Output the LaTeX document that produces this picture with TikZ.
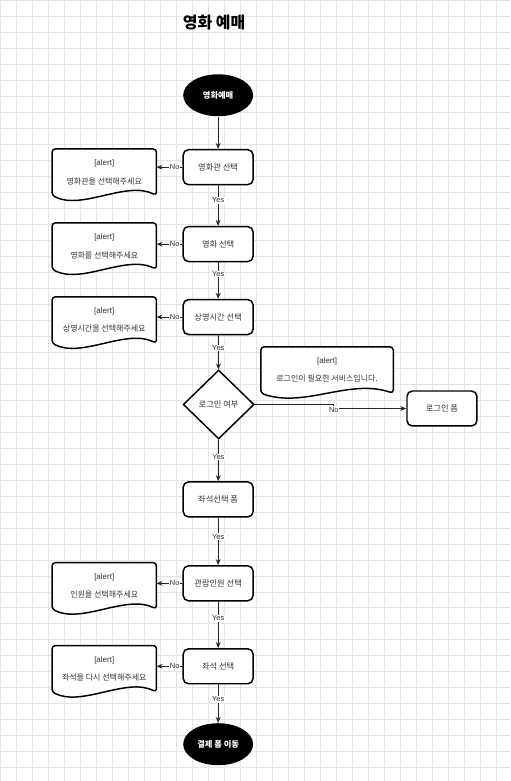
\documentclass[tikz,border=0pt]{standalone}
\usepackage{fontspec}
\setmainfont{Liberation Sans}
\newfontfamily\kr{Noto Sans CJK KR}
\usetikzlibrary{arrows.meta, positioning, shapes.geometric, calc, backgrounds}
\definecolor{txtgray}{RGB}{51, 51, 51}
\definecolor{gridgray}{RGB}{228, 228, 228}

% alert box: document shape with a wavy bottom, drawn behind its node
\newcommand{\alertdoc}[1]{%
  \begin{scope}[on background layer]
    \draw[line width=1.1pt, fill=white, rounded corners=2.5pt]
      (#1.south west) -- (#1.north west) -- (#1.north east) -- (#1.south east)
      .. controls ($(#1.south)+(22,-15)$) and ($(#1.south)+(-22,15)$) .. (#1.south west) -- cycle;
  \end{scope}}

\begin{document}
\begin{tikzpicture}[
    x=0.75pt, y=-0.75pt,
    >={Stealth[length=4.5pt, width=3.6pt]},
    proc/.style={rectangle, draw, line width=1.1pt, rounded corners=4pt, fill=white,
        minimum width=52.5pt, minimum height=26.25pt, inner sep=1pt,
        font=\kr\fontsize{6.2}{7}\selectfont, text=txtgray},
    term/.style={ellipse, fill=black, minimum width=52.5pt, minimum height=31.5pt,
        inner sep=0pt, font=\kr\bfseries\fontsize{6.2}{7}\selectfont, text=white},
    decide/.style={diamond, draw, line width=1.1pt, fill=white, aspect=1,
        minimum width=53.25pt, minimum height=51.75pt, inner sep=0pt,
        font=\kr\fontsize{6.2}{7}\selectfont, text=txtgray},
    alert/.style={rectangle, minimum width=78pt, minimum height=34.5pt, inner sep=0pt,
        align=center, font=\fontsize{6}{7}\selectfont, text=txtgray},
    flow/.style={->, line width=0.75pt, draw=black!85},
    lbl/.style={fill=white, inner sep=0.6pt, font=\fontsize{5.6}{6}\selectfont, text=txtgray}
]

% === Hintergrund ===
\begin{scope}[on background layer]
    \fill[white] (0,0) rectangle (510,781);
    \foreach \gx in {0,16,...,510} \draw[gridgray, line width=0.5pt] (\gx,0) -- (\gx,781);
    \foreach \gy in {0,16,...,781} \draw[gridgray, line width=0.5pt] (0,\gy) -- (510,\gy);
\end{scope}

% === Titel ===
\node[font=\kr\bfseries\fontsize{12}{14}\selectfont] (ttl) at (214, 22) {영화 예매};

% === Ablauf ===
\node[term] (start) at (218, 95) {영화예매};
\node[proc] (b1) at (218, 167) {영화관 선택};
\node[proc] (b2) at (218, 244) {영화 선택};
\node[proc] (b3) at (218, 317) {상영시간 선택};
\node[decide] (dia) at (218.5, 404.5) {로그인 여부};
\node[proc] (form) at (218, 499.5) {좌석선택 폼};
\node[proc] (people) at (218, 583.5) {관람인원 선택};
\node[proc] (seat) at (218, 666.5) {좌석 선택};
\node[term] (pay) at (218, 744.5) {결제 폼 이동};
\node[proc] (login) at (442, 408.5) {로그인 폼};

% === Alerts ===
\node[alert] (a1) at (104, 172) {[alert]\\[7pt]{\kr 영화관을 선택해주세요}};
\node[alert] (a2) at (104, 246) {[alert]\\[7pt]{\kr 영화를 선택해주세요}};
\node[alert] (a3) at (104, 320) {[alert]\\[7pt]{\kr 상영시간을 선택해주세요}};
\node[alert, minimum width=99pt] (a4) at (327, 370) {[alert]\\[7pt]{\kr 로그인이 필요한 서비스입니다.}};
\node[alert] (a5) at (104, 586) {[alert]\\[7pt]{\kr 인원을 선택해주세요}};
\node[alert] (a6) at (104, 669) {[alert]\\[7pt]{\kr 좌석을 다시 선택해주세요}};
\foreach \a in {a1,a2,a3,a4,a5,a6} \alertdoc{\a};

% === Pfeile ===
\draw[flow] (start) -- (b1);
\draw[flow] (b1) -- node[lbl, pos=0.37] {Yes} (b2);
\draw[flow] (b2) -- node[lbl, pos=0.32] {Yes} (b3);
\draw[flow] (b3) -- node[lbl, pos=0.37] {Yes} (dia);
\draw[flow] (dia) -- node[lbl, pos=0.42] {Yes} (form);
\draw[flow] (form) -- node[lbl, pos=0.4] {Yes} (people);
\draw[flow] (people) -- node[lbl, pos=0.36] {Yes} (seat);
\draw[flow] (seat) -- node[lbl, pos=0.38] {Yes} (pay);

% Nein-Zweige
\draw[flow] (b1.west) -- node[lbl, pos=0.3] {No} (b1.west -| a1.east);
\draw[flow] (b2.west) -- node[lbl, pos=0.3] {No} (b2.west -| a2.east);
\draw[flow] (b3.west) -- node[lbl, pos=0.3] {No} (b3.west -| a3.east);
\draw[flow] (people.west) -- node[lbl, pos=0.3] {No} (people.west -| a5.east);
\draw[flow] (seat.west) -- node[lbl, pos=0.3] {No} (seat.west -| a6.east);

% Login
\coordinate (jog) at (333, 406);
\draw[flow] (dia.east) -- (dia.east -| jog) -- (jog |- login.west) node[lbl, below right=-2pt and -4pt] {No} -- (login.west);

\end{tikzpicture}
\end{document}
